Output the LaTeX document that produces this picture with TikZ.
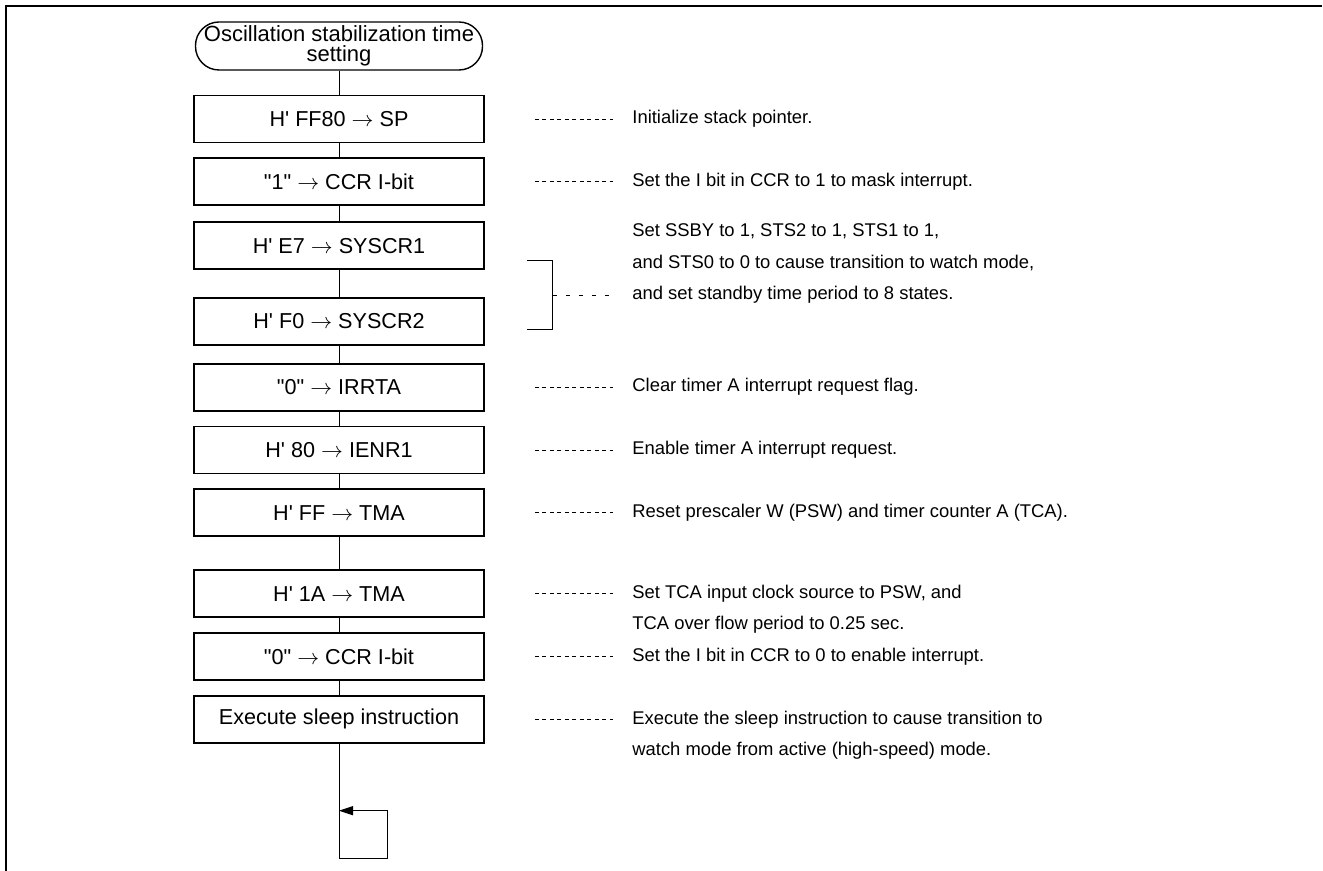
\documentclass[tikz,border=0pt]{standalone}
\usepackage{fontspec}
\newfontfamily\flowfont{Liberation Sans}
\usepackage{tikz}
\usetikzlibrary{arrows.meta,positioning,calc}

\begin{document}
\begin{tikzpicture}[
  x=0.5pt, y=-0.5pt,
  node distance=7pt,
  term/.style={draw,line width=0.7pt,rounded corners=11.75pt,minimum width=143.5pt,minimum height=24pt,inner sep=0pt,align=center,font=\flowfont\fontsize{11}{9.8}\selectfont},
  stepbox/.style={draw,line width=0.9pt,minimum width=145pt,minimum height=23.5pt,inner sep=0pt,font=\flowfont\fontsize{10.8}{12}\selectfont},
  note/.style={anchor=west,inner sep=0pt,text height=6.7pt,text depth=2pt,font=\flowfont\fontsize{9.2}{11}\selectfont},
  link/.style={line width=0.5pt},
  leader/.style={line width=0.5pt,dash pattern=on 2pt off 1.75pt}]
\useasboundingbox (0,0) rectangle (1323,871);
% frame
\draw[line width=1.1pt] (6,871) -- (6,6) -- (1322,6);

% flow
\node[term] (start) at (339,46) {Oscillation stabilization time\\setting};
\node[stepbox,below=12pt of start] (sp) {H' FF80 $\rightarrow$ SP};
\node[stepbox,below=of sp] (ccr1) {"1" $\rightarrow$ CCR I-bit};
\node[stepbox,below=7.5pt of ccr1] (sys1) {H' E7 $\rightarrow$ SYSCR1};
\node[stepbox,below=13.5pt of sys1] (sys2) {H' F0 $\rightarrow$ SYSCR2};
\node[stepbox,below=8.5pt of sys2] (irr) {"0" $\rightarrow$ IRRTA};
\node[stepbox,below=of irr] (ienr) {H' 80 $\rightarrow$ IENR1};
\node[stepbox,below=of ienr] (tmaff) {H' FF $\rightarrow$ TMA};
\node[stepbox,below=16pt of tmaff] (tma1a) {H' 1A $\rightarrow$ TMA};
\node[stepbox,below=of tma1a] (ccr0) {"0" $\rightarrow$ CCR I-bit};
\node[stepbox,below=of ccr0] (sleep) {Execute sleep instruction};
\foreach \a/\b in {start/sp,sp/ccr1,ccr1/sys1,sys1/sys2,sys2/irr,irr/ienr,ienr/tmaff,tmaff/tma1a,tma1a/ccr0,ccr0/sleep}
  \draw[link] (\a) -- (\b);

% endless loop
\coordinate (lpa) at ([yshift=-57.5pt]sleep.south);
\coordinate (lpb) at ([xshift=24pt]lpa);
\coordinate (lpc) at ([yshift=-33.5pt]sleep.south);
\draw[link,-{Triangle[length=7pt,width=4.5pt]}] (sleep.south) -- (lpa) -- (lpb) |- (lpc);

% notes
\coordinate (notex) at (632,0);
\node[note] (n1) at (sp -| notex) {Initialize stack pointer.};
\node[note] (n2) at (ccr1 -| notex) {Set the I bit in CCR to 1 to mask interrupt.};
\node[note] (n4) at (irr -| notex) {Clear timer A interrupt request flag.};
\node[note] (n5) at (ienr -| notex) {Enable timer A interrupt request.};
\node[note] (n6) at (tmaff -| notex) {Reset prescaler W (PSW) and timer counter A (TCA).};
\node[note] (n7a) at (tma1a -| notex) {Set TCA input clock source to PSW, and};
\node[note] (n7b) at ([yshift=-15.75pt]n7a.west) {TCA over flow period to 0.25 sec.};
\node[note] (n8) at (ccr0 -| notex) {Set the I bit in CCR to 0 to enable interrupt.};
\node[note] (n9a) at (sleep -| notex) {Execute the sleep instruction to cause transition to};
\node[note] (n9b) at ([yshift=-15.75pt]n9a.west) {watch mode from active (high-speed) mode.};
\foreach \b/\n in {sp/n1,ccr1/n2,irr/n4,ienr/n5,tmaff/n6,tma1a/n7a,ccr0/n8,sleep/n9a}
  \draw[leader] ([xshift=25pt]\b.east) -- ([xshift=-9.5pt]\n.west);

% bracket for the two system control registers
\coordinate (brtop) at ([xshift=21pt,yshift=-7.5pt]sys1.east);
\coordinate (brbot) at ([xshift=21pt,yshift=-4pt]sys2.east);
\coordinate (brmid) at ($(brtop)!0.5!(brbot)+(13pt,0)$);
\draw[link] (brtop) -- ++(13pt,0) |- (brbot);
\node[note] (n3c) at (brmid -| notex) {and set standby time period to 8 states.};
\node[note] (n3b) at ([yshift=15.75pt]n3c.west) {and STS0 to 0 to cause transition to watch mode,};
\node[note] (n3a) at ([yshift=15.75pt]n3b.west) {Set SSBY to 1, STS2 to 1, STS1 to 1,};
\draw[leader,dash pattern=on 2pt off 4.5pt] (brmid) -- ([xshift=-9.5pt]n3c.west);
\end{tikzpicture}
\end{document}
